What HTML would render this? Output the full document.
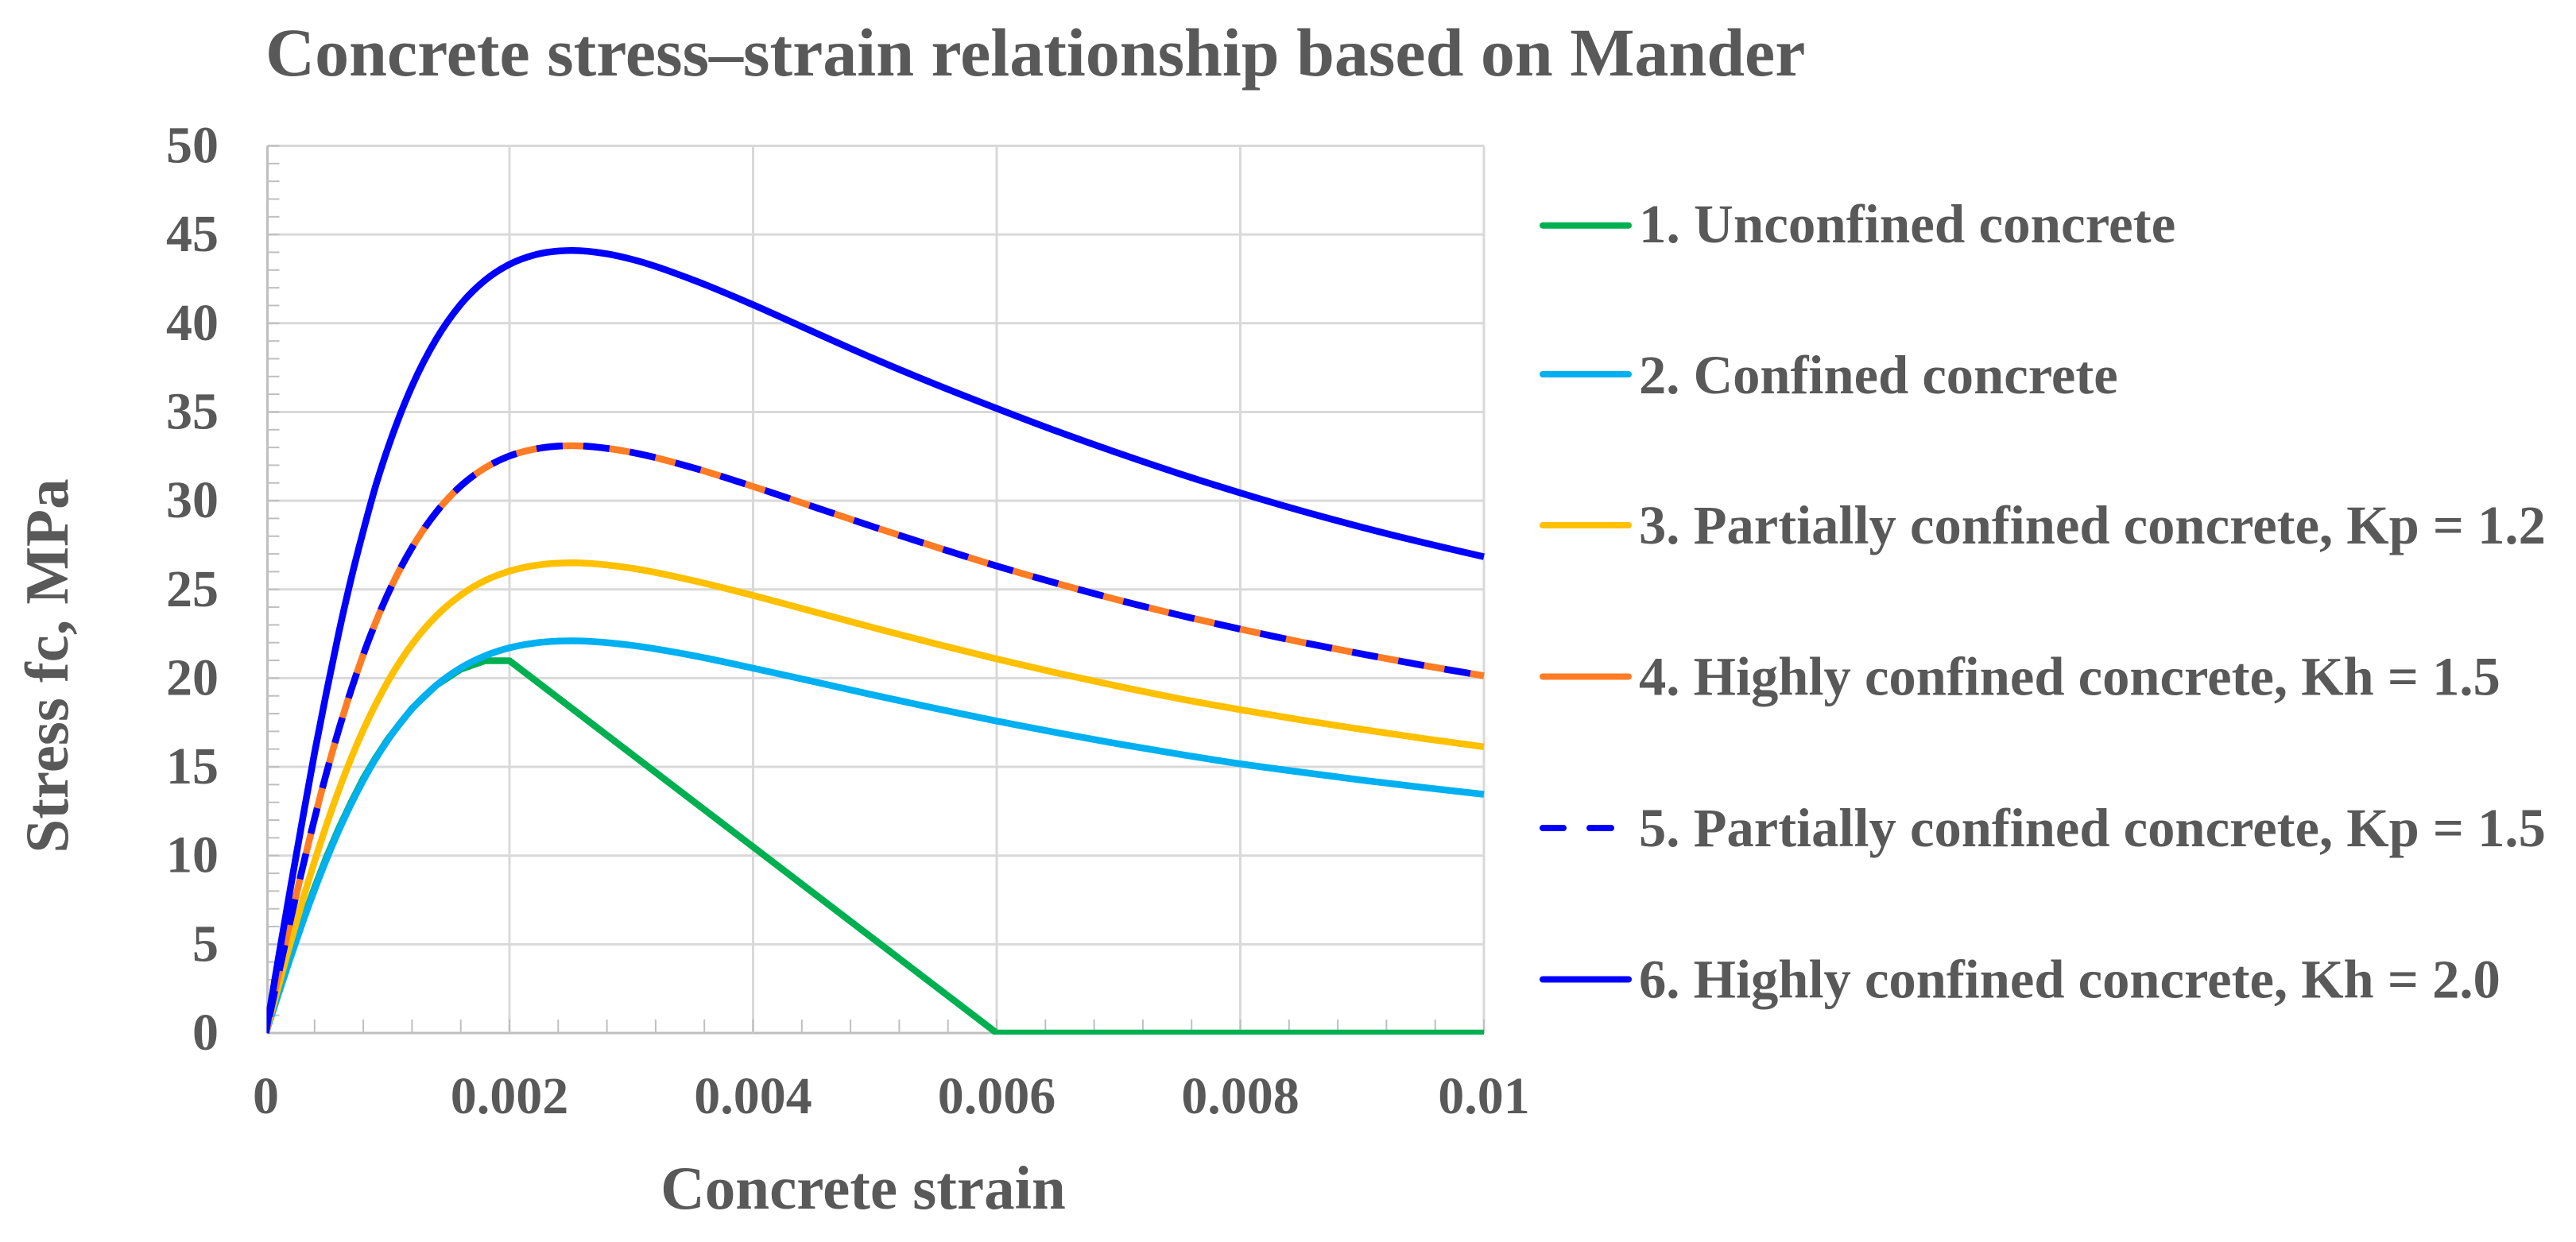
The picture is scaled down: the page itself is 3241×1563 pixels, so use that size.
<!DOCTYPE html>
<html lang="en">
<head>
<meta charset="utf-8">
<title>Concrete stress–strain relationship based on Mander</title>
<style>
html,body{margin:0;padding:0;background:#fff;}
svg{display:block;}
text{font-family:"Liberation Serif","DejaVu Serif",serif;font-weight:bold;fill:#595959;}
</style>
</head>
<body>
<svg id="chart" xmlns="http://www.w3.org/2000/svg" width="3241" height="1563" viewBox="0 0 3241 1563">
  <rect width="3241" height="1563" fill="#ffffff"/>
  <defs><clipPath id="plot-clip"><rect x="335.5" y="180" width="1532.5" height="1122"/></clipPath></defs>
  <text x="334" y="95" font-size="86">Concrete stress–strain relationship based on Mander</text>
  <text transform="translate(85,838) rotate(-90)" text-anchor="middle" font-size="77">Stress fc, MPa</text>
  <text x="1086" y="1521" text-anchor="middle" font-size="77">Concrete strain</text>
  <g id="grid"></g>
  <g id="ticks"></g>
  <g id="labels"></g>
  <g id="series" clip-path="url(#plot-clip)"></g>
  <g id="legend">
    <g>
      <line x1="1941" x2="2049" y1="283.7" y2="283.7" stroke="#00b050" stroke-width="8" stroke-linecap="round"/>
      <text x="2062" y="305" font-size="69">1. Unconfined concrete</text>
    </g>
    <g>
      <line x1="1941" x2="2049" y1="471" y2="471" stroke="#00b0f0" stroke-width="8" stroke-linecap="round"/>
      <text x="2062" y="495" font-size="68.6">2. Confined concrete</text>
    </g>
    <g>
      <line x1="1941" x2="2049" y1="661" y2="661" stroke="#ffc000" stroke-width="8" stroke-linecap="round"/>
      <text x="2062" y="684" font-size="68.6">3. Partially confined concrete, Kp = 1.2</text>
    </g>
    <g>
      <line x1="1941" x2="2049" y1="851.5" y2="851.5" stroke="#ff7c24" stroke-width="8" stroke-linecap="round"/>
      <text x="2062" y="874.5" font-size="68.6">4. Highly confined concrete, Kh = 1.5</text>
    </g>
    <g>
      <line x1="1941" x2="1967" y1="1042" y2="1042" stroke="#0000ff" stroke-width="8" stroke-linecap="round"/>
      <line x1="2000" x2="2027" y1="1042" y2="1042" stroke="#0000ff" stroke-width="8" stroke-linecap="round"/>
      <text x="2062" y="1065" font-size="68.6">5. Partially confined concrete, Kp = 1.5</text>
    </g>
    <g>
      <line x1="1941" x2="2049" y1="1232.5" y2="1232.5" stroke="#0000ff" stroke-width="8" stroke-linecap="round"/>
      <text x="2062" y="1255.5" font-size="68.6">6. Highly confined concrete, Kh = 2.0</text>
    </g>
  </g>
</svg>
<script>
const xTickValues = [0, 0.002, 0.004, 0.006, 0.008, 0.01];
const xTickLabels = ["0", "0.002", "0.004", "0.006", "0.008", "0.01"];
const yTickValues = [0, 5, 10, 15, 20, 25, 30, 35, 40, 45, 50];
const yTickLabels = ["0", "5", "10", "15", "20", "25", "30", "35", "40", "45", "50"];

const strain = [0, 0.0001, 0.0002, 0.0003, 0.0004, 0.0005, 0.0006, 0.0007, 0.0008, 0.0009, 0.001, 0.0012, 0.0014, 0.0016, 0.0018, 0.002, 0.0022, 0.0025, 0.0028, 0.003, 0.0035, 0.004, 0.0045, 0.005, 0.0055, 0.006, 0.0065, 0.007, 0.0075, 0.008, 0.0085, 0.009, 0.0095, 0.01];
const unconfinedStrain = [0, 0.0001, 0.0002, 0.0003, 0.0004, 0.0005, 0.0006, 0.0007, 0.0008, 0.0009, 0.001, 0.0012, 0.0014, 0.0016, 0.0018, 0.002, 0.006, 0.01];

const unconfinedStress = [0, 2.2, 4.3, 6.3, 8.2, 9.95, 11.55, 13.0, 14.35, 15.5, 16.55, 18.3, 19.6, 20.5, 20.98, 20.98, 0, 0];
const confinedStress = [0, 2.13, 4.21, 6.2, 8.08, 9.83, 11.44, 12.91, 14.24, 15.44, 16.5, 18.27, 19.6, 20.58, 21.26, 21.71, 21.97, 22.1, 22.0, 21.85, 21.28, 20.56, 19.8, 19.03, 18.29, 17.58, 16.92, 16.29, 15.71, 15.17, 14.7, 14.25, 13.84, 13.45];
const partialK12Stress = [0, 2.56, 5.05, 7.43, 9.68, 11.78, 13.71, 15.48, 17.08, 18.51, 19.79, 21.91, 23.51, 24.68, 25.5, 26.03, 26.34, 26.5, 26.38, 26.2, 25.51, 24.66, 23.74, 22.82, 21.93, 21.08, 20.28, 19.54, 18.84, 18.22, 17.64, 17.11, 16.6, 16.13];
const highlyK15Stress = [0, 3.2, 6.31, 9.28, 12.09, 14.72, 17.13, 19.33, 21.33, 23.12, 24.72, 27.36, 29.36, 30.83, 31.85, 32.52, 32.9, 33.1, 32.95, 32.73, 31.87, 30.8, 29.65, 28.5, 27.39, 26.32, 25.33, 24.4, 23.55, 22.76, 22.03, 21.36, 20.72, 20.13];
const partialK15Stress = [0, 3.2, 6.31, 9.28, 12.09, 14.72, 17.13, 19.33, 21.33, 23.12, 24.72, 27.36, 29.36, 30.83, 31.85, 32.52, 32.9, 33.1, 32.95, 32.73, 31.87, 30.8, 29.65, 28.5, 27.39, 26.32, 25.33, 24.4, 23.55, 22.76, 22.03, 21.36, 20.72, 20.13];
const highlyK20Stress = [0, 4.1, 8.1, 12.0, 15.8, 19.3, 22.6, 25.6, 28.3, 30.8, 32.93, 36.46, 39.12, 41.07, 42.43, 43.32, 43.84, 44.1, 43.91, 43.61, 42.46, 41.04, 39.5, 37.98, 36.55, 35.2, 33.9, 32.68, 31.52, 30.44, 29.43, 28.5, 27.64, 26.84];

const NS = "http://www.w3.org/2000/svg";
const xAxisMax = 0.01, yAxisMax = 50;
const plotLeft = 334.5, plotRight = 1867, plotTop = 183.5, plotBottom = 1300;
const axisLineX = 336.5;
const xScale = v => plotLeft + (v / xAxisMax) * (plotRight - plotLeft);
const yScale = v => plotBottom - (v / yAxisMax) * (plotBottom - plotTop);

const gridGroup = document.getElementById("grid");
const tickGroup = document.getElementById("ticks");
const labelGroup = document.getElementById("labels");
const seriesGroup = document.getElementById("series");

function makeLine(parent, x1, y1, x2, y2, color, width) {
  const el = document.createElementNS(NS, "line");
  el.setAttribute("x1", x1);
  el.setAttribute("y1", y1);
  el.setAttribute("x2", x2);
  el.setAttribute("y2", y2);
  el.setAttribute("stroke", color);
  el.setAttribute("stroke-width", width);
  parent.appendChild(el);
  return el;
}

function makeLabel(x, y, anchor, content) {
  const el = document.createElementNS(NS, "text");
  el.setAttribute("x", x);
  el.setAttribute("y", y);
  el.setAttribute("text-anchor", anchor);
  el.setAttribute("font-size", "66");
  el.textContent = content;
  labelGroup.appendChild(el);
  return el;
}

/* smooth path through the data points, with spacing-weighted tangents */
function smoothPath(xs, ys) {
  const px = xs.map(xScale);
  const py = ys.map(yScale);
  const n = px.length;
  const slope = px.map((_, i) => {
    if (i === 0) return (py[1] - py[0]) / (px[1] - px[0]);
    if (i === n - 1) return (py[n - 1] - py[n - 2]) / (px[n - 1] - px[n - 2]);
    const h0 = px[i] - px[i - 1];
    const h1 = px[i + 1] - px[i];
    const d0 = (py[i] - py[i - 1]) / h0;
    const d1 = (py[i + 1] - py[i]) / h1;
    return (h0 * d1 + h1 * d0) / (h0 + h1);
  });
  let d = "M" + px[0].toFixed(2) + "," + py[0].toFixed(2);
  for (let i = 0; i < n - 1; i++) {
    const h = (px[i + 1] - px[i]) / 3;
    d += " C" + (px[i] + h).toFixed(2) + "," + (py[i] + slope[i] * h).toFixed(2) +
         " " + (px[i + 1] - h).toFixed(2) + "," + (py[i + 1] - slope[i + 1] * h).toFixed(2) +
         " " + px[i + 1].toFixed(2) + "," + py[i + 1].toFixed(2);
  }
  return d;
}

function makeSeries(xs, ys, color, width) {
  const el = document.createElementNS(NS, "path");
  el.setAttribute("d", smoothPath(xs, ys));
  el.setAttribute("fill", "none");
  el.setAttribute("stroke", color);
  el.setAttribute("stroke-width", width);
  el.setAttribute("stroke-linejoin", "round");
  seriesGroup.appendChild(el);
  return el;
}

function makeKinkedSeries(xs, ys, color, width) {
  const el = document.createElementNS(NS, "polyline");
  el.setAttribute("points", xs.map((x, i) => xScale(x).toFixed(1) + "," + yScale(ys[i]).toFixed(1)).join(" "));
  el.setAttribute("fill", "none");
  el.setAttribute("stroke", color);
  el.setAttribute("stroke-width", width);
  el.setAttribute("stroke-linejoin", "round");
  seriesGroup.appendChild(el);
  return el;
}

/* gridlines, major and minor ticks, labels */
yTickValues.forEach((v, i) => {
  const isBase = v === 0;
  const gl = makeLine(gridGroup, axisLineX, yScale(v), plotRight, yScale(v), isBase ? "#bfbfbf" : "#d9d9d9", 3);
  
  
  const lab = makeLabel(275, yScale(v) + 21, "end", yTickLabels[i]);
  
  
});
xTickValues.forEach((v, i) => {
  const isBase = v === 0;
  const lineX = isBase ? axisLineX : xScale(v);
  const gl = makeLine(gridGroup, lineX, plotTop, lineX, plotBottom, isBase ? "#bfbfbf" : "#d9d9d9", 3);
  
  
  const lab = makeLabel(xScale(v), 1401, "middle", xTickLabels[i]);
  
  
});
for (let k = 0; k <= 50; k++) {
  const t = makeLine(tickGroup, axisLineX, yScale(k), axisLineX + 15, yScale(k), "#bfbfbf", 2);
  
  
}
for (let k = 1; k <= 25; k++) {
  const t = makeLine(tickGroup, xScale(k * 0.0004), plotBottom, xScale(k * 0.0004), plotBottom - 17, "#bfbfbf", 2);
  
  
}

/* series */
const s1 = makeKinkedSeries(unconfinedStrain, unconfinedStress, "#00b050", 8.5);


const s2 = makeSeries(strain, confinedStress, "#00b0f0", 8.5);


const s3 = makeSeries(strain, partialK12Stress, "#ffc000", 8.5);


const s4 = makeSeries(strain, highlyK15Stress, "#ff7c24", 8.5);


const s5 = makeSeries(strain, partialK15Stress, "#0000ff", 8.5);


s5.setAttribute("stroke-dasharray", "33 26");
/* align the dash pattern so the final dash stops just short of the right edge */
s5.setAttribute("stroke-dashoffset", (33 - ((s5.getTotalLength() - 17.5) % 59)).toFixed(2));
const s6 = makeSeries(strain, highlyK20Stress, "#0000ff", 8.5);


</script>
</body>
</html>
